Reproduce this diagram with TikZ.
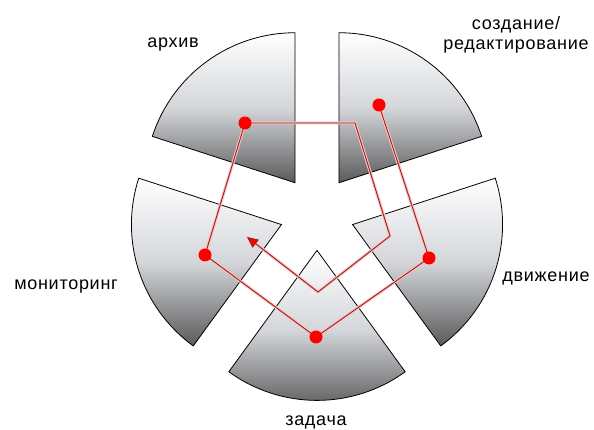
\documentclass[tikz,border=0pt]{standalone}
\usepackage{fontspec}
\setmainfont{Liberation Sans}[LetterSpace=4]
\usetikzlibrary{arrows.meta,calc}
\definecolor{linkred}{RGB}{155,30,30}
\definecolor{halo}{RGB}{250,195,195}
\definecolor{wedgedark}{RGB}{90,90,90}
\definecolor{wedgemid}{RGB}{212,214,218}
\begin{document}
\begin{tikzpicture}[x=1pt,y=1pt,
  wedge/.style={draw=black,line width=0.8pt,
    top color=white,bottom color=wedgedark,middle color=wedgemid},
  dot/.style={circle,fill=red,inner sep=0pt,minimum size=13pt},
  link/.style={draw=linkred,line width=0.9pt},
  linkhalo/.style={draw=halo,line width=3pt},
  lbl/.style={font=\fontsize{18}{20}\selectfont,inner sep=0pt}]
\useasboundingbox (0,0) rectangle (594,430);
\coordinate (c) at (317,217);
% wedges of the exploded pie
\foreach \t/\n in {126/arch,54/edit,-18/move,270/task,198/mon}{
  \path[wedge] ($(c)+(\t:37.4)$) coordinate (apex-\n)
    -- ++(\t-36:150) arc[start angle=\t-36,end angle=\t+36,radius=150] -- cycle;
}
% waypoints
\coordinate (w1) at (355,307);
\coordinate (w2) at (390,194);
\coordinate (w3) at (318,138);
\coordinate (tip) at (247,193);
% dots positions
\coordinate (pA) at (245,307);
\coordinate (pE) at (379,325);
\coordinate (pM) at (429,172);
\coordinate (pT) at (316,93);
\coordinate (pL) at (205,175);
% halos
\draw[linkhalo] (pA) -- (w1) -- (w2) -- (w3) -- (tip);
\draw[linkhalo] (pA) -- (pL) -- (pT) -- (pM) -- (pE);
% links
\draw[link,-{Triangle[length=11pt,width=10pt,fill=red]}] (pA) -- (w1) -- (w2) -- (w3) -- (tip);
\draw[link] (pA) -- (pL) -- (pT) -- (pM) -- (pE);
% dots
\node[dot] (dA) at (pA) {};
\node[dot] (dE) at (pE) {};
\node[dot] (dM) at (pM) {};
\node[dot] (dT) at (pT) {};
\node[dot] (dL) at (pL) {};
% labels
\node[lbl] (lA) at (173,385) {архив};
\node[lbl,align=center] (lE) at (516,395) {создание/\\редактирование};
\node[lbl] (lL) at (66,143) {мониторинг};
\node[lbl] (lM) at (546,152) {движение};
\node[lbl] (lT) at (316,8) {задача};
\end{tikzpicture}
\end{document}
